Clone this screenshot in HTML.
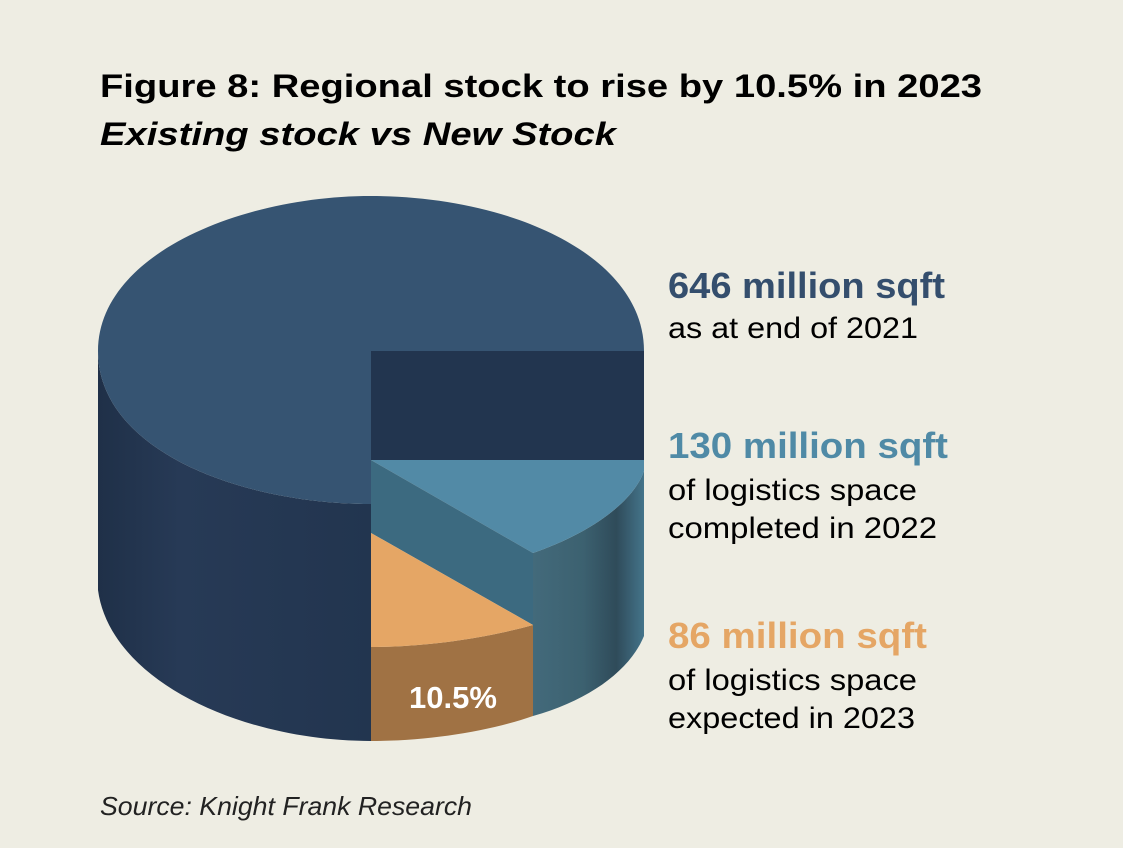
<!DOCTYPE html>
<html><head><meta charset="utf-8"><style>
html,body{margin:0;padding:0;background:#eeede3;}
svg{display:block;font-family:"Liberation Sans",Arial,sans-serif;}
</style></head><body>
<svg width="1123" height="848" viewBox="0 0 1123 848" xmlns="http://www.w3.org/2000/svg">
<defs>
<linearGradient id="gs" x1="0" x2="1" y1="0" y2="0">
<stop offset="0" stop-color="#1f3048"/><stop offset="0.3" stop-color="#273a56"/><stop offset="1" stop-color="#22354f"/>
</linearGradient>
<linearGradient id="gb" x1="0" x2="1" y1="0" y2="0">
<stop offset="0" stop-color="#436a7b"/><stop offset="0.45" stop-color="#3c6170"/><stop offset="0.75" stop-color="#2f4b5a"/><stop offset="1" stop-color="#44748a"/>
</linearGradient>
</defs>
<rect width="1123" height="848" fill="#eeede3"/>
<text x="100" y="97" font-size="32" font-weight="bold" fill="#000" textLength="882" lengthAdjust="spacingAndGlyphs">Figure 8: Regional stock to rise by 10.5% in 2023</text>
<text x="100" y="145" font-size="32" font-weight="bold" font-style="italic" fill="#000" textLength="516" lengthAdjust="spacingAndGlyphs">Existing stock vs New Stock</text>

<path d="M98,351 L98,590 C110,680 240,741 371,741 L371,504 C240,504 98,450 98,351 Z" fill="url(#gs)"/>
<path d="M98,351 C98,255 240,196 371,196 C510,196 644,255 644,351 L371,351 L371,504 C240,504 98,450 98,351 Z" fill="#365472"/>
<rect x="371" y="351" width="273" height="109" fill="#22354f"/>
<path d="M533,553 C585,535 632,505 644,471 L644,636 C630,670 590,700 533,716 Z" fill="url(#gb)"/>
<path d="M371,460 L644,460 L644,471 C632,505 585,535 533,553 Z" fill="#528aa6"/>
<path d="M371,460 L533,553 L533,625 L371,533 Z" fill="#3c6a80"/>
<path d="M371,647 C430,647 490,637 533,625 L533,716 C490,731 430,741 371,741 Z" fill="#a07244"/>
<path d="M371,533 L533,625 C490,637 430,647 371,647 Z" fill="#e5a665"/>
<text x="453" y="708" font-size="31" font-weight="bold" fill="#fff" text-anchor="middle">10.5%</text>

<text x="668" y="298" font-size="36" font-weight="bold" fill="#344e6d" textLength="277" lengthAdjust="spacingAndGlyphs">646 million sqft</text>
<text x="668" y="338" font-size="30" fill="#000" textLength="250" lengthAdjust="spacingAndGlyphs">as at end of 2021</text>
<text x="668" y="458" font-size="36" font-weight="bold" fill="#4f8aa6" textLength="280" lengthAdjust="spacingAndGlyphs">130 million sqft</text>
<text x="668" y="500" font-size="30" fill="#000" textLength="249" lengthAdjust="spacingAndGlyphs">of logistics space</text>
<text x="668" y="538" font-size="30" fill="#000" textLength="269" lengthAdjust="spacingAndGlyphs">completed in 2022</text>
<text x="668" y="648" font-size="36" font-weight="bold" fill="#e5a665" textLength="259" lengthAdjust="spacingAndGlyphs">86 million sqft</text>
<text x="668" y="690" font-size="30" fill="#000" textLength="249" lengthAdjust="spacingAndGlyphs">of logistics space</text>
<text x="668" y="728" font-size="30" fill="#000" textLength="247" lengthAdjust="spacingAndGlyphs">expected in 2023</text>

<text x="100" y="815" font-size="26" font-style="italic" fill="#222" textLength="372" lengthAdjust="spacingAndGlyphs">Source: Knight Frank Research</text>
</svg>
</body></html>
